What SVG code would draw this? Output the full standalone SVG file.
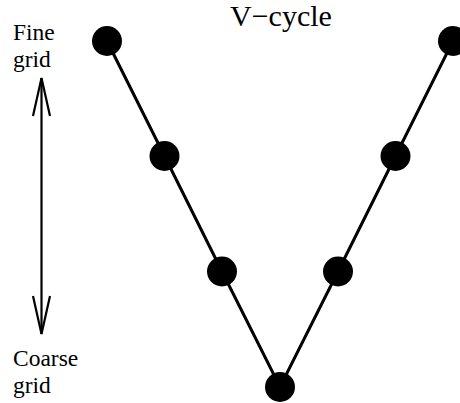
<svg xmlns="http://www.w3.org/2000/svg" width="460" height="403" viewBox="0 0 460 403">
<defs>
<style>
.t{font-family:"Liberation Serif","Times New Roman",serif;fill:#000}
.n{fill:#000}
.e{stroke:#000;stroke-width:3;fill:none}
.a{stroke:#000;stroke-width:2.2;fill:none}
</style>
</defs>
<rect width="460" height="403" fill="#fff"/>
<text class="t" x="230" y="26" font-size="30">V−cycle</text>
<text class="t" x="13" y="40" font-size="23.5">Fine</text>
<text class="t" x="13" y="67" font-size="23.5">grid</text>
<text class="t" x="13" y="366" font-size="23.5">Coarse</text>
<text class="t" x="13" y="393" font-size="23.5">grid</text>
<g id="scale-arrow">
<line class="a" x1="41.5" y1="78" x2="41.5" y2="334"/>
<polyline class="a" points="33,116 41.5,78 50,116"/>
<polyline class="a" points="33,296 41.5,334 50,296"/>
</g>
<g id="connectors">
<polyline class="e" points="107,41 164.5,156 222,271.5 280,387 338,271.5 395.5,156 453,41"/>
</g>
<g id="n1"><circle class="n" cx="107" cy="41" r="15"/></g>
<g id="n2"><circle class="n" cx="164.5" cy="156" r="15"/></g>
<g id="n3"><circle class="n" cx="222" cy="271.5" r="15"/></g>
<g id="n4"><circle class="n" cx="280" cy="387" r="15"/></g>
<g id="n5"><circle class="n" cx="338" cy="271.5" r="15"/></g>
<g id="n6"><circle class="n" cx="395.5" cy="156" r="15"/></g>
<g id="n7"><circle class="n" cx="453" cy="41" r="15"/></g>
</svg>
